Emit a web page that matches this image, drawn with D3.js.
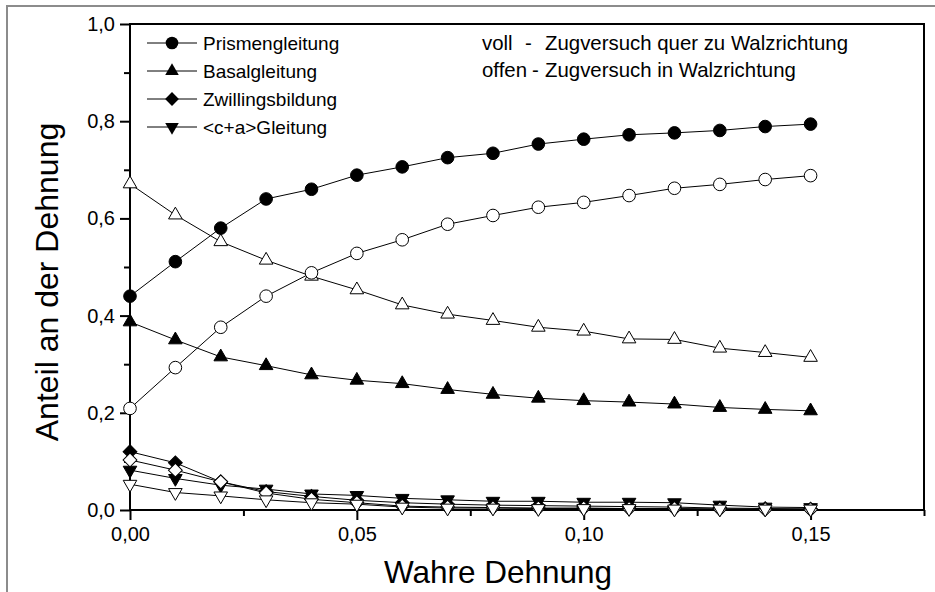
<!DOCTYPE html>
<html>
<head>
<meta charset="utf-8">
<script src="https://cdn.jsdelivr.net/npm/d3@7"></script>
<style>
  body { margin: 0; background: #fff; }
  text { font-family: "Liberation Sans", Arial, sans-serif; fill: #000; }
</style>
</head>
<body>
<div class="graph-goes-here"></div>
<script>
// x values (Wahre Dehnung)
var strain = [0, 0.01, 0.02, 0.03, 0.04, 0.05, 0.06, 0.07, 0.08, 0.09, 0.10, 0.11, 0.12, 0.13, 0.14, 0.15];

// voll = Zugversuch quer zu Walzrichtung, offen = Zugversuch in Walzrichtung
var prismenVoll  = [0.440, 0.511, 0.580, 0.640, 0.660, 0.689, 0.706, 0.725, 0.734, 0.753, 0.763, 0.772, 0.776, 0.781, 0.789, 0.794];
var prismenOffen = [0.209, 0.293, 0.376, 0.440, 0.488, 0.528, 0.556, 0.588, 0.606, 0.623, 0.633, 0.647, 0.662, 0.670, 0.680, 0.688];
var basalVoll    = [0.387, 0.350, 0.315, 0.297, 0.278, 0.267, 0.260, 0.248, 0.238, 0.230, 0.225, 0.222, 0.218, 0.211, 0.207, 0.204];
var basalOffen   = [0.671, 0.607, 0.552, 0.514, 0.481, 0.453, 0.422, 0.403, 0.390, 0.376, 0.368, 0.352, 0.351, 0.333, 0.324, 0.314];
var zwillVoll    = [0.120, 0.097, 0.058, 0.038, 0.028, 0.020, 0.015, 0.012, 0.010, 0.009, 0.008, 0.007, 0.006, 0.004, 0.003, 0.002];
var zwillOffen   = [0.103, 0.082, 0.058, 0.035, 0.022, 0.015, 0.008, 0.006, 0.005, 0.004, 0.004, 0.003, 0.003, 0.002, 0.001, 0.001];
var caVoll       = [0.082, 0.065, 0.051, 0.043, 0.033, 0.030, 0.024, 0.021, 0.018, 0.018, 0.016, 0.016, 0.015, 0.010, 0.006, 0.005];
var caOffen      = [0.053, 0.036, 0.029, 0.021, 0.015, 0.012, 0.006, 0.004, 0.004, 0.003, 0.003, 0.003, 0.002, 0.002, 0.002, 0.002];

var xMajor = [0, 0.05, 0.10, 0.15];
var xMinor = [0.025, 0.075, 0.125, 0.175];
var yMajor = [0, 0.2, 0.4, 0.6, 0.8, 1.0];
var yMinor = [0.1, 0.3, 0.5, 0.7, 0.9];

var legendNames = ["Prismengleitung", "Basalgleitung", "Zwillingsbildung", "<c+a>Gleitung"];
var legendNote = [["voll", "-", "Zugversuch quer zu Walzrichtung"], ["offen", "-", "Zugversuch in Walzrichtung"]];

var margin = { top: 24, right: 11, bottom: 82, left: 130 },
    width = 935 - margin.left - margin.right,
    height = 592 - margin.top - margin.bottom;

var root = d3.select(".graph-goes-here")
    .append("svg")
    .attr("width", 935)
    .attr("height", 592);

// grey outer frame of the figure
root.append("rect")
    .attr("x", 7).attr("y", 6)
    .attr("width", 960).attr("height", 620)
    .attr("fill", "none").attr("stroke", "#8c8c8c").attr("stroke-width", 2);

var svg = root.append("g")
    .attr("transform", "translate(" + margin.left + "," + margin.top + ")");

var x = d3.scaleLinear().domain([0, 0.175]).range([0, width]);
var y = d3.scaleLinear().domain([0, 1]).range([height, 0]);

var de = d3.formatLocale({ decimal: ",", thousands: ".", grouping: [3], currency: ["", ""] });

// axes
var xAxis = svg.append("g").attr("transform", "translate(0," + height + ")")
    .call(d3.axisBottom(x).tickValues(xMajor).tickSize(10).tickSizeOuter(0).tickPadding(7).tickFormat(de.format(".2f")));
var xAxisMinor = svg.append("g").attr("transform", "translate(0," + height + ")")
    .call(d3.axisBottom(x).tickValues(xMinor).tickSize(6).tickSizeOuter(0).tickFormat(""));
var yAxis = svg.append("g")
    .call(d3.axisLeft(y).tickValues(yMajor).tickSize(10).tickSizeOuter(0).tickPadding(5).tickFormat(de.format(".1f")));
var yAxisMinor = svg.append("g")
    .call(d3.axisLeft(y).tickValues(yMinor).tickSize(6).tickSizeOuter(0).tickFormat(""));

[xAxis, xAxisMinor, yAxis, yAxisMinor].forEach(function (a) {
    a.select(".domain").remove();
    a.selectAll("line").attr("stroke", "#000").attr("stroke-width", 2);
    a.selectAll("text").style("font-size", "20px").attr("font-family", null);
});

svg.append("rect")
    .attr("width", width).attr("height", height)
    .attr("fill", "none").attr("stroke", "#000").attr("stroke-width", 2);

// axis titles
svg.append("text")
    .attr("x", 368).attr("y", height + 73)
    .attr("text-anchor", "middle")
    .style("font-size", "31.5px")
    .text("Wahre Dehnung");

svg.append("text")
    .attr("transform", "translate(-72," + (height / 2 + 15) + ") rotate(-90)")
    .attr("text-anchor", "middle")
    .style("font-size", "32px")
    .text("Anteil an der Dehnung");

var shapes = {
    circle: { type: d3.symbolCircle, size: 125, rot: 0 },
    up: { type: d3.symbolTriangle, size: 80, rot: 0 },
    diamond: { type: d3.symbolSquare, size: 95, rot: 45 },
    down: { type: d3.symbolTriangle, size: 80, rot: 180 }
};

var series = [
    { values: basalOffen, shape: "up", filled: false },
    { values: prismenOffen, shape: "circle", filled: false },
    { values: basalVoll, shape: "up", filled: true },
    { values: prismenVoll, shape: "circle", filled: true },
    { values: zwillVoll, shape: "diamond", filled: true },
    { values: caVoll, shape: "down", filled: true },
    { values: zwillOffen, shape: "diamond", filled: false },
    { values: caOffen, shape: "down", filled: false }
];

var line = d3.line()
    .x(function (d) { return x(d[0]); })
    .y(function (d) { return y(d[1]); });

series.forEach(function (s) {
    var pts = strain.map(function (v, i) { return [v, s.values[i]]; });
    var g = svg.append("g");
    g.append("path")
        .datum(pts)
        .attr("fill", "none")
        .attr("stroke", "#000")
        .attr("stroke-width", 1)
        .attr("d", line);
    var sh = shapes[s.shape];
    g.selectAll("path.pt")
        .data(pts)
        .enter()
        .append("path")
        .attr("class", "pt")
        .attr("d", d3.symbol().type(sh.type).size(sh.size))
        .attr("transform", function (d) {
            return "translate(" + x(d[0]) + "," + y(d[1]) + ") rotate(" + sh.rot + ")";
        })
        .attr("fill", s.filled ? "#000" : "#fff")
        .attr("stroke", "#000")
        .attr("stroke-width", 1);
});

// legend
var legendShapes = ["circle", "up", "diamond", "down"];
var legend = svg.append("g");
legendNames.forEach(function (name, i) {
    var cy = 19 + i * 28;
    var row = legend.append("g").attr("transform", "translate(0," + cy + ")");
    row.append("line")
        .attr("x1", 17).attr("x2", 67).attr("y1", 0).attr("y2", 0)
        .attr("stroke", "#000").attr("stroke-width", 1);
    var sh = shapes[legendShapes[i]];
    row.append("path")
        .attr("d", d3.symbol().type(sh.type).size(sh.size))
        .attr("transform", "translate(42,0) rotate(" + sh.rot + ")")
        .attr("fill", "#000");
    row.append("text")
        .attr("x", 73).attr("y", 7)
        .style("font-size", "19px")
        .text(name);
});

legendNote.forEach(function (parts, i) {
    var t = legend.append("text")
        .attr("y", 26 + i * 27)
        .style("font-size", "20.4px");
    t.append("tspan").attr("x", 352).text(parts[0]);
    t.append("tspan").attr("x", i == 0 ? 395 : 402).text(parts[1]);
    t.append("tspan").attr("x", 415).text(parts[2]);
});
</script>
</body>
</html>
